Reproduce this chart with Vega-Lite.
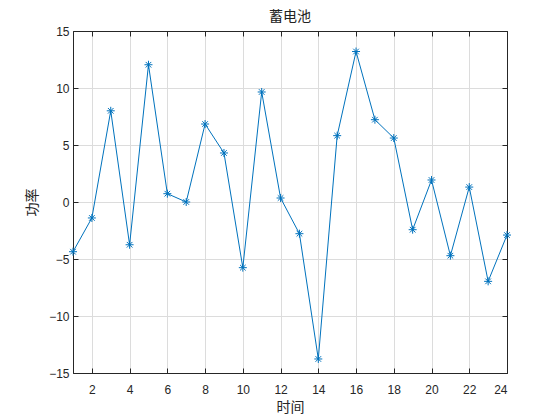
{
  "$schema": "https://vega.github.io/schema/vega-lite/v6.json",
  "autosize": "none",
  "width": 434,
  "height": 342,
  "padding": {"left": 73, "top": 31, "right": 53, "bottom": 47},
  "background": "white",
  "title": {"text": "蓄电池", "font": "Noto Sans CJK SC", "fontSize": 14, "fontWeight": "normal", "color": "#222222", "offset": 1},
  "data": {"values": [
    {"t": 1, "p": -4.36}, {"t": 2, "p": -1.4}, {"t": 3, "p": 8.0}, {"t": 4, "p": -3.75},
    {"t": 5, "p": 12.04}, {"t": 6, "p": 0.73}, {"t": 7, "p": 0.0}, {"t": 8, "p": 6.84},
    {"t": 9, "p": 4.3}, {"t": 10, "p": -5.76}, {"t": 11, "p": 9.65}, {"t": 12, "p": 0.35},
    {"t": 13, "p": -2.78}, {"t": 14, "p": -13.77}, {"t": 15, "p": 5.82}, {"t": 16, "p": 13.2},
    {"t": 17, "p": 7.22}, {"t": 18, "p": 5.61}, {"t": 19, "p": -2.43}, {"t": 20, "p": 1.93},
    {"t": 21, "p": -4.71}, {"t": 22, "p": 1.31}, {"t": 23, "p": -6.96}, {"t": 24, "p": -2.9}
  ]},
  "config": {
    "view": {"stroke": "#262626", "strokeWidth": 1},
    "axis": {
      "labelFont": "Liberation Sans", "labelFontSize": 12, "labelColor": "#262626",
      "titleFont": "Noto Sans CJK SC", "titleFontSize": 14, "titleFontWeight": "normal", "titleColor": "#262626",
      "domainColor": "#262626", "tickColor": "#262626", "tickSize": -5,
      "gridColor": "#dcdcdc", "gridWidth": 1, "grid": true
    }
  },
  "layer": [
    {
      "mark": {"type": "line", "color": "#0072BD", "strokeWidth": 1},
      "encoding": {
        "x": {"field": "t", "type": "quantitative", "scale": {"domain": [1, 24], "nice": false},
              "axis": {"values": [2,4,6,8,10,12,14,16,18,20,22,24], "title": "时间", "labelPadding": 16, "titlePadding": 5, "orient": "bottom"}},
        "y": {"field": "p", "type": "quantitative", "scale": {"domain": [-15, 15], "nice": false},
              "axis": {"values": [-15,-10,-5,0,5,10,15], "title": "功率", "labelPadding": 9, "titlePadding": 9, "orient": "left"}}
      }
    },
    {
      "mark": {"type": "point", "shape": "M-1,0L1,0M0,-1L0,1M-0.7,-0.7L0.7,0.7M-0.7,0.7L0.7,-0.7", "filled": false, "color": "#0072BD", "strokeWidth": 1, "size": 64, "opacity": 1},
      "encoding": {
        "x": {"field": "t", "type": "quantitative", "scale": {"domain": [1, 24], "nice": false},
              "axis": {"values": [2,4,6,8,10,12,14,16,18,20,22,24], "orient": "top", "labels": false, "title": null, "grid": false}},
        "y": {"field": "p", "type": "quantitative", "scale": {"domain": [-15, 15], "nice": false},
              "axis": {"values": [-15,-10,-5,0,5,10,15], "orient": "right", "labels": false, "title": null, "grid": false}}
      }
    }
  ],
  "resolve": {"axis": {"x": "independent", "y": "independent"}}
}
